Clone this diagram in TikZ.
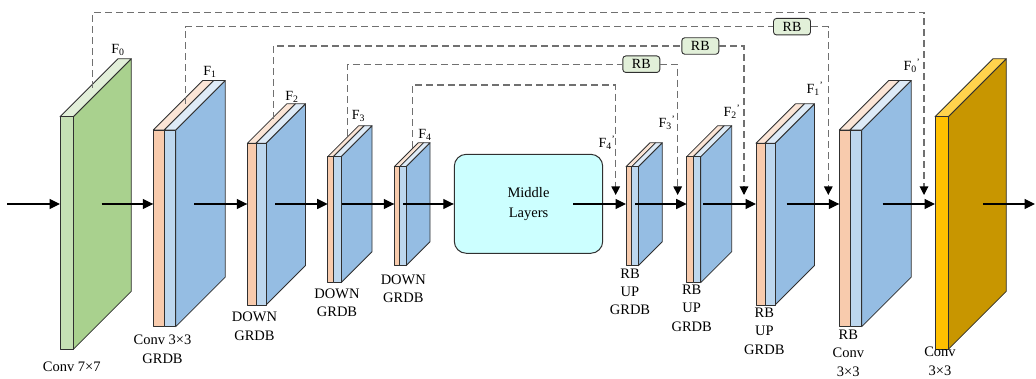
\documentclass[tikz,border=0pt]{standalone}
\usepackage{fontspec}
\setmainfont{Liberation Serif}
\usetikzlibrary{arrows.meta}
\definecolor{orfront}{HTML}{F8CBAD}
\definecolor{ortop}{HTML}{FBE5D6}
\definecolor{lbfront}{HTML}{BDD7EE}
\definecolor{lbtop}{HTML}{DEEBF7}
\definecolor{sideblue}{HTML}{95BDE3}
\definecolor{grfront}{HTML}{C5E0B4}
\definecolor{grtop}{HTML}{E2F0D9}
\definecolor{grside}{HTML}{A9D18E}
\definecolor{yefront}{HTML}{FFC000}
\definecolor{yetop}{HTML}{FFD34D}
\definecolor{yeside}{HTML}{C89600}
\definecolor{rbfill}{HTML}{E2F0D9}
\definecolor{midfill}{HTML}{CCFFFF}
\definecolor{skipgray}{HTML}{707070}
\definecolor{edgegray}{HTML}{303030}
\tikzset{
  edge/.style={draw=edgegray, line width=0.8pt, line join=round},
  flow/.style={draw=black, line width=1.1pt, -{Triangle[length=10.5pt,width=10pt]}},
  skip/.style={draw=skipgray, line width=1.1pt, dash pattern=on 7pt off 4pt},
  skiparrow/.style={skip, -{Triangle[length=8.5pt,width=8.5pt,color=black]}},
  lbl/.style={font=\fontsize{14.5}{18.3}\selectfont, align=center, inner sep=0pt},
  flbl/.style={font=\fontsize{14}{16}\selectfont, inner sep=0pt},
  rbbox/.style={draw=edgegray, line width=0.9pt, fill=rbfill, rounded corners=3pt,
    minimum width=37pt, minimum height=16.5pt, inner sep=0pt, font=\fontsize{14}{16}\selectfont},
  midbox/.style={draw=edgegray, line width=1pt, fill=midfill, rounded corners=12pt,
    minimum width=148.4pt, minimum height=99pt, inner sep=0pt, align=center,
    font=\fontsize{14.5}{20}\selectfont}
}
% orange + light blue slab: x0, xm, x1, ytop, ybot, depth
\newcommand{\slabob}[6]{%
  \draw[edge, fill=sideblue] (#3,#4) -- ({#3+#6},{#4-#6}) -- ({#3+#6},{#5-#6}) -- (#3,#5) -- cycle;
  \draw[edge, fill=ortop] (#1,#4) -- (#2,#4) -- ({#2+#6},{#4-#6}) -- ({#1+#6},{#4-#6}) -- cycle;
  \draw[edge, fill=lbtop] (#2,#4) -- (#3,#4) -- ({#3+#6},{#4-#6}) -- ({#2+#6},{#4-#6}) -- cycle;
  \draw[edge, fill=orfront] (#1,#4) rectangle (#2,#5);
  \draw[edge, fill=lbfront] (#2,#4) rectangle (#3,#5);
}
% single colour slab: x0, x1, ytop, ybot, depth, front, top, side
\newcommand{\slabone}[8]{%
  \draw[edge, fill=#8] (#2,#3) -- ({#2+#5},{#3-#5}) -- ({#2+#5},{#4-#5}) -- (#2,#4) -- cycle;
  \draw[edge, fill=#7] (#1,#3) -- (#2,#3) -- ({#2+#5},{#3-#5}) -- ({#1+#5},{#3-#5}) -- cycle;
  \draw[edge, fill=#6] (#1,#3) rectangle (#2,#4);
}
\begin{document}
\begin{tikzpicture}[x=1pt, y=-1pt]
\useasboundingbox (0,0) rectangle (1036,379);

% ---- blocks ----
\slabone{60}{73.3}{116.7}{349.3}{58}{grfront}{grtop}{grside}
\slabob{153.3}{164.3}{175.7}{130}{326.7}{49.5}
\slabob{247.3}{256}{266}{143.3}{305}{39.5}
\slabob{327.7}{333.3}{341}{156.7}{282.7}{31}
\slabob{394.3}{399.7}{406}{166.7}{265.7}{24}
\node[midbox] (mid) at (528.5,203.8) {Middle\\Layers};
\slabob{626}{631.7}{638.3}{166.7}{265.7}{24}
\slabob{686.7}{693.3}{700.7}{156.7}{282.7}{31}
\slabob{756}{765}{775}{143.3}{305}{39.5}
\slabob{839.3}{850}{861.7}{130}{326.7}{49.5}
\slabone{935}{948.3}{116.7}{349.3}{58}{yefront}{yetop}{yeside}

% ---- main flow coordinates ----
\coordinate (in)  at (7,204);
\coordinate (b1f) at (60,204);    \coordinate (b1o) at (101.7,204);
\coordinate (b2f) at (153.3,204); \coordinate (b2o) at (194.3,204);
\coordinate (b3f) at (247.3,204); \coordinate (b3o) at (275,204);
\coordinate (b4f) at (327.7,204); \coordinate (b4o) at (341.7,204);
\coordinate (b5f) at (394.3,204); \coordinate (b5o) at (403,204);
\coordinate (mo)  at (573.3,204);
\coordinate (b6f) at (626,204);   \coordinate (b6o) at (635,204);
\coordinate (b7f) at (686.7,204); \coordinate (b7o) at (703.3,204);
\coordinate (b8f) at (756,204);   \coordinate (b8o) at (786.7,204);
\coordinate (b9f) at (839.3,204); \coordinate (b9o) at (882.7,204);
\coordinate (b10f) at (935,204);  \coordinate (b10o) at (983.3,204);
\coordinate (out) at (1035,204);

\draw[flow] (in) -- (b1f);
\draw[flow] (b1o) -- (b2f);
\draw[flow] (b2o) -- (b3f);
\draw[flow] (b3o) -- (b4f);
\draw[flow] (b4o) -- (b5f);
\draw[flow] (b5o) -- (mid.west |- b5o);
\draw[flow] (mo) -- (b6f);
\draw[flow] (b6o) -- (b7f);
\draw[flow] (b7o) -- (b8f);
\draw[flow] (b8o) -- (b9f);
\draw[flow] (b9o) -- (b10f);
\draw[flow] (b10o) -- (out);

% ---- skip connections ----
\node[rbbox] (rb1) at (792,26.7) {RB};
\node[rbbox] (rb2) at (700.3,46) {RB};
\node[rbbox] (rb3) at (641.3,64.2) {RB};

\coordinate (s0a) at (92.7,88);  \coordinate (s0b) at (924,195);  \coordinate (s0y) at (0,12.3);
\coordinate (s1a) at (185.7,104); \coordinate (s1b) at (828.3,195);
\coordinate (s2a) at (273.3,119); \coordinate (s2b) at (744,195);
\coordinate (s3a) at (347.7,136); \coordinate (s3b) at (677.7,195);
\coordinate (s4a) at (412.3,148); \coordinate (s4b) at (615.7,195); \coordinate (s4y) at (0,85);

\draw[skiparrow] (s0a) -- (s0a |- s0y) -- (s0b |- s0y) -- (s0b);
\draw[skip] (s1a) -- (s1a |- rb1.west) -- (rb1.west);
\draw[skiparrow] (rb1.east) -- (s1b |- rb1.east) -- (s1b);
\draw[skip] (s2a) -- (s2a |- rb2.west) -- (rb2.west);
\draw[skiparrow] (rb2.east) -- (s2b |- rb2.east) -- (s2b);
\draw[skip] (s3a) -- (s3a |- rb3.west) -- (rb3.west);
\draw[skiparrow] (rb3.east) -- (s3b |- rb3.east) -- (s3b);
\draw[skiparrow] (s4a) -- (s4a |- s4y) -- (s4b |- s4y) -- (s4b);

% ---- feature labels ----
\node[flbl] (f0) at (118,50) {F\textsubscript{0}};
\node[flbl] (f1) at (210,72) {F\textsubscript{1}};
\node[flbl] (f2) at (292,97) {F\textsubscript{2}};
\node[flbl] (f3) at (358.5,116) {F\textsubscript{3}};
\node[flbl] (f4) at (425,135) {F\textsubscript{4}};
\node[flbl] (f4p) at (607,143) {F\textsubscript{4}\textsuperscript{'}};
\node[flbl] (f3p) at (667,123) {F\textsubscript{3}\textsuperscript{'}};
\node[flbl] (f2p) at (732,112) {F\textsubscript{2}\textsuperscript{'}};
\node[flbl] (f1p) at (815,89) {F\textsubscript{1}\textsuperscript{'}};
\node[flbl] (f0p) at (912,66) {F\textsubscript{0}\textsuperscript{'}};

% ---- block labels ----
\node[lbl, anchor=north] (l1) at (71.7,362) {Conv 7×7};
\node[lbl, anchor=north] (l2) at (162.5,335) {Conv 3×3\\GRDB};
\node[lbl, anchor=north] (l3) at (254.5,312) {DOWN\\GRDB};
\node[lbl, anchor=north] (l4) at (337,288.5) {DOWN\\GRDB};
\node[lbl, anchor=north] (l5) at (403.3,274.5) {DOWN\\GRDB};
\node[lbl, anchor=north] (l6) at (630,268.5) {RB\\UP\\GRDB};
\node[lbl, anchor=north] (l7) at (691.7,285) {RB\\UP\\GRDB};
\node[lbl, anchor=north] (l8) at (764.3,308) {RB\\UP\\GRDB};
\node[lbl, anchor=north] (l9) at (848.3,330) {RB\\Conv\\3×3};
\node[lbl, anchor=north] (l10) at (940,347) {Conv\\3×3};
\end{tikzpicture}
\end{document}
